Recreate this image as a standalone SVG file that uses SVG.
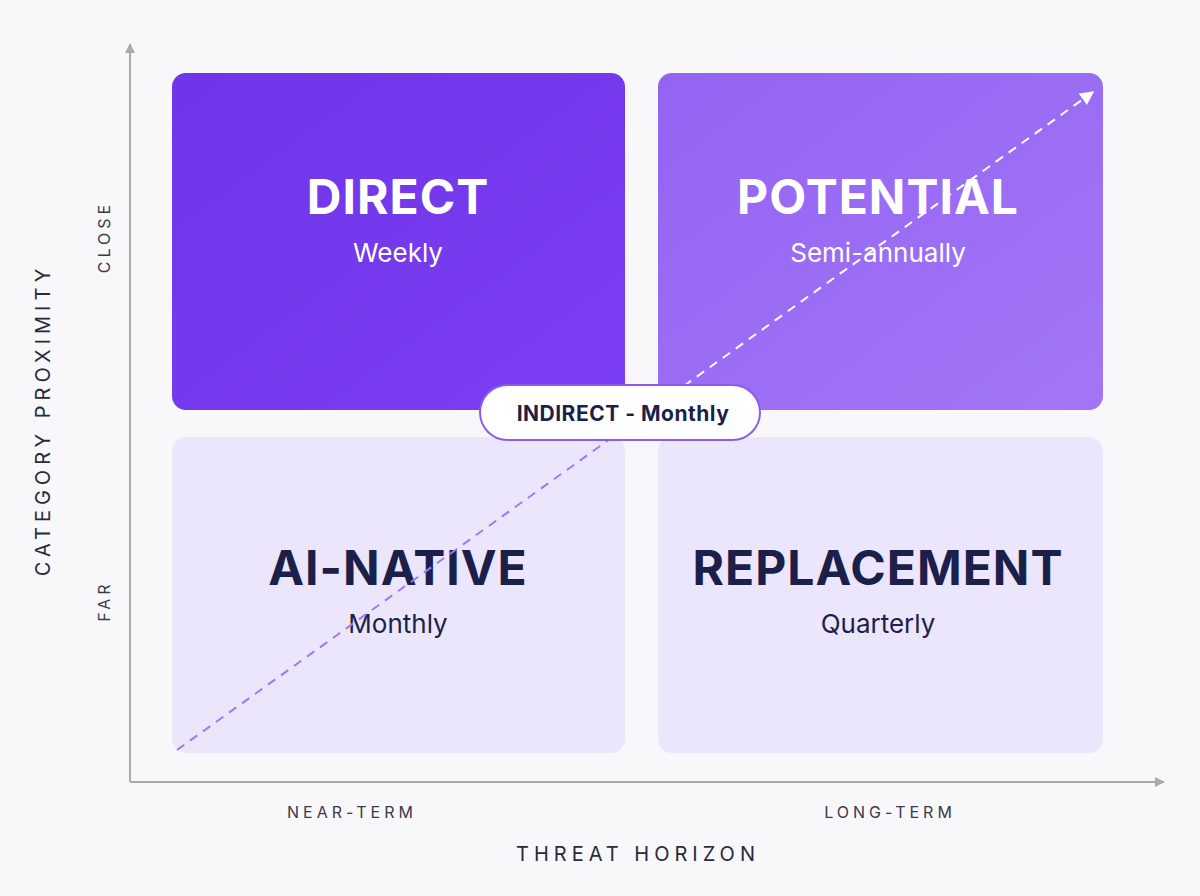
<svg xmlns="http://www.w3.org/2000/svg" width="1200" height="896" viewBox="0 0 1200 896">
<defs>
<style>
.t{font-family:Inter,"Liberation Sans",sans-serif}
.h{font-size:48px;font-weight:700;letter-spacing:1px}
.s{font-size:26px}
.ax{font-size:16px;letter-spacing:4px;fill:#3a3a4a}
.axt{font-size:20px;letter-spacing:5px;fill:#2a2a3a}
</style>
<marker id="ah" viewBox="0 0 10 10" refX="9" refY="5" markerWidth="10" markerHeight="10" markerUnits="userSpaceOnUse" orient="auto"><path d="M0,0L10,5L0,10z" fill="#aaa"/></marker>
<marker id="aw" viewBox="0 0 10 10" refX="9" refY="5" markerWidth="14" markerHeight="14" markerUnits="userSpaceOnUse" orient="auto"><path d="M0,0L10,5L0,10z" fill="#fff"/></marker>
<clipPath id="top"><rect x="0" y="0" width="1200" height="410"/></clipPath>
<clipPath id="bot"><rect x="0" y="437" width="1200" height="460"/></clipPath>
<linearGradient id="g1" x1="0" y1="0" x2="1" y2="1"><stop offset="0" stop-color="#6f35e8"/><stop offset="1" stop-color="#7c3ef2"/></linearGradient>
<linearGradient id="g2" x1="0" y1="0" x2="1" y2="1"><stop offset="0" stop-color="#9463f2"/><stop offset="1" stop-color="#a276f6"/></linearGradient>
</defs>
<rect width="1200" height="896" fill="#f8f8fa"/>
<g id="direct"><rect x="172" y="73" width="453" height="337" rx="14" fill="url(#g1)"/>
<text class="t h" x="398" y="214" text-anchor="middle" fill="#fff">DIRECT</text>
<text class="t s" x="398" y="262" text-anchor="middle" fill="#fff">Weekly</text></g>
<g id="potential"><rect x="658" y="73" width="445" height="337" rx="14" fill="url(#g2)"/>
<text class="t h" x="878" y="214" text-anchor="middle" fill="#fff">POTENTIAL</text>
<text class="t s" x="878" y="262" text-anchor="middle" fill="#fff">Semi-annually</text></g>
<g id="ainative"><rect x="172" y="437" width="453" height="316" rx="14" fill="#ece6fd"/>
<text class="t h" x="398" y="585" text-anchor="middle" fill="#1c1f4a">AI-NATIVE</text>
<text class="t s" x="398" y="633" text-anchor="middle" fill="#1c1f4a">Monthly</text></g>
<g id="replacement"><rect x="658" y="437" width="445" height="316" rx="14" fill="#ece6fd"/>
<text class="t h" x="878" y="585" text-anchor="middle" fill="#1c1f4a">REPLACEMENT</text>
<text class="t s" x="878" y="633" text-anchor="middle" fill="#1c1f4a">Quarterly</text></g>
<g id="connectors">
<line x1="130" y1="782" x2="130" y2="44" stroke="#aaa" stroke-width="2" marker-end="url(#ah)"/>
<line x1="130" y1="782" x2="1164" y2="782" stroke="#aaa" stroke-width="2" marker-end="url(#ah)"/>
<line x1="177" y1="750" x2="1093" y2="92" stroke="#9b7bf0" stroke-width="2" stroke-dasharray="9 7" clip-path="url(#bot)"/>
<line x1="177" y1="750" x2="1093" y2="92" stroke="#fff" stroke-width="2" stroke-dasharray="9 7" clip-path="url(#top)" marker-end="url(#aw)"/>
</g>
<g id="indirect"><rect x="480" y="385" width="280" height="55" rx="27.5" fill="#fff" stroke="#8a5cf0" stroke-width="2"/>
<text class="t" x="623" y="421" text-anchor="middle" font-size="21" font-weight="700" fill="#1c1f4a" letter-spacing="0.5">INDIRECT - Monthly</text></g>
<g id="labels">
<text class="t ax" x="352" y="818" text-anchor="middle">NEAR-TERM</text>
<text class="t ax" x="890" y="818" text-anchor="middle">LONG-TERM</text>
<text class="t axt" x="638" y="861" text-anchor="middle">THREAT HORIZON</text>
<text class="t ax" transform="translate(110,237) rotate(-90)" text-anchor="middle">CLOSE</text>
<text class="t ax" transform="translate(110,601) rotate(-90)" text-anchor="middle">FAR</text>
<text class="t axt" transform="translate(50,420) rotate(-90)" text-anchor="middle">CATEGORY PROXIMITY</text>
</g>
</svg>
